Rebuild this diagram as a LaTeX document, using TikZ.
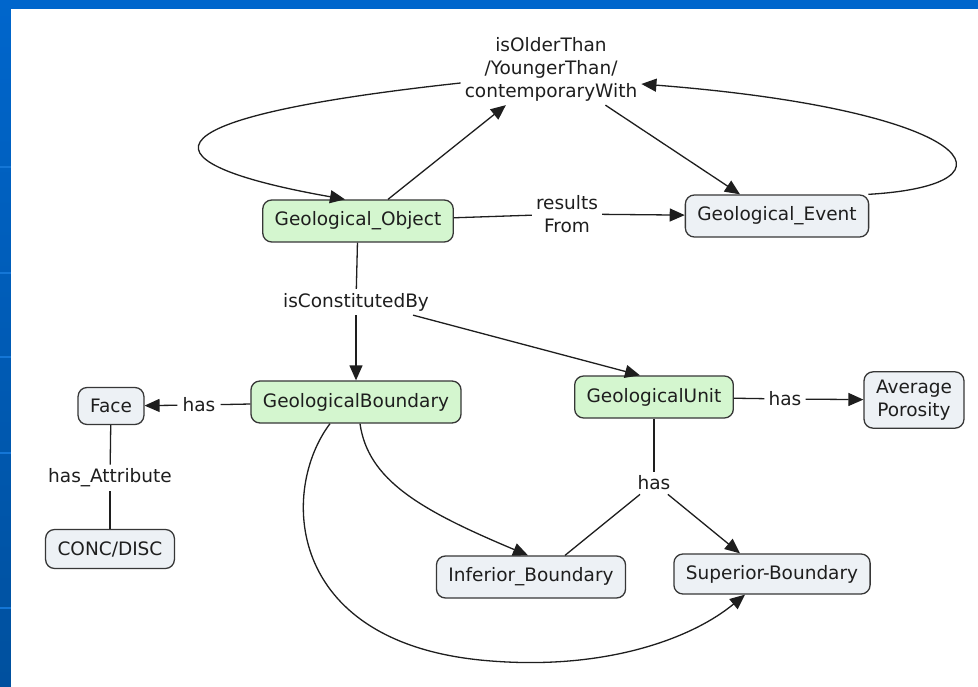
\documentclass[tikz,border=0pt]{standalone}
\usepackage{fontspec}
\setmainfont{DejaVu Sans}
\usetikzlibrary{arrows.meta}
\definecolor{frameblue}{RGB}{0,102,204}
\definecolor{framebluedark}{RGB}{0,80,158}
\definecolor{framebluelight}{RGB}{20,118,214}
\definecolor{conceptgreen}{RGB}{212,246,207}
\definecolor{conceptgray}{RGB}{237,241,245}
\definecolor{edgegray}{RGB}{55,55,55}
\definecolor{inkgray}{RGB}{30,30,30}
\begin{document}
\begin{tikzpicture}[x=1pt,y=-1pt,
  concept/.style={draw=edgegray, line width=1.3pt, rounded corners=9pt,
    inner xsep=12pt, inner ysep=6pt, minimum height=42pt,
    font=\fontsize{18.5}{23}\selectfont, text=inkgray, align=center},
  gconcept/.style={concept, fill=conceptgreen},
  bconcept/.style={concept, fill=conceptgray},
  linkword/.style={font=\fontsize{18.5}{23}\selectfont, text=inkgray,
    align=center, inner sep=4pt},
  link/.style={draw=inkgray, line width=1.3pt},
  arrow/.style={link, -{Triangle[length=15pt,width=13pt]}}
]
% slide frame
\useasboundingbox (0,0) rectangle (978,687);
\fill[frameblue] (0,0) rectangle (978,687);
\shade[top color=frameblue, bottom color=framebluedark] (0,0) rectangle (11,687);
\foreach \yy in {167,273,357,453,608}
  \draw[framebluelight, line width=1.5pt] (0,\yy) -- (11,\yy);
\fill[white] (11,9) rectangle (978,687);

% concepts
\node[gconcept] (GO)  at (358,221) {Geological\_Object};
\node[bconcept] (GE)  at (777,216) {Geological\_Event};
\node[gconcept] (GB)  at (356,402) {GeologicalBoundary};
\node[gconcept] (GU)  at (654,397) {GeologicalUnit};
\node[bconcept, minimum height=37pt] (Face) at (111,406) {Face};
\node[bconcept, minimum height=39pt] (CD) at (110,549) {CONC/DISC};
\node[bconcept, inner ysep=8pt] (AP) at (914,400) {Average\\Porosity};
\node[bconcept] (Inf) at (531,577) {Inferior\_Boundary};
\node[bconcept, minimum height=40pt] (Sup) at (772,574) {Superior-Boundary};

% linking words
\node[linkword] (temp) at (551,69) {isOlderThan\\/YoungerThan/\\contemporaryWith};
\node[linkword] (res)  at (567,214) {results\\From};
\node[linkword] (icb)  at (356,302) {isConstitutedBy};
\node[linkword, inner sep=5pt] (hasF) at (199,405) {has};
\node[linkword] (hasA) at (110,478) {has\_Attribute};
\node[linkword] (hasP) at (785,399) {has};
\node[linkword] (hasU) at (654,483) {has};

% temporal relations
\draw[arrow] ([xshift=30pt]GO.north) -- (temp);
\draw[arrow] (temp) -- ([xshift=-37pt]GE.north);
\draw[arrow] ([yshift=-14pt]temp.west)
  .. controls (120,120) and (150,165) .. ([xshift=-13pt]GO.north);
\draw[arrow] ([xshift=-1pt]GE.north east)
  .. controls (1030,185) and (975,110) .. ([yshift=-15pt]temp.east);

% resultsFrom
\draw[link] (GO) -- (res);
\draw[arrow] (res) -- (GE);

% constitution
\draw[link] (GO) -- (icb);
\draw[arrow] (icb) -- (GB);
\draw[arrow] ([xshift=-20pt]icb.south east) -- ([xshift=-14pt]GU.north);

% boundary faces
\draw[link] (GB) -- (hasF);
\draw[arrow] (hasF) -- (Face);
\draw[link] (Face) -- (hasA);
\draw[link] (hasA) -- (CD);

% unit properties
\draw[link] (GU) -- (hasP);
\draw[arrow] (hasP) -- (AP);
\draw[link] (GU) -- (hasU);
\draw[link] (hasU) -- ([xshift=34pt]Inf.north);
\draw[arrow] (hasU) -- ([xshift=-32pt]Sup.north);

% boundary to its limits
\draw[arrow] ([xshift=4pt]GB.south)
  .. controls (368,480) and (420,510) .. ([xshift=-3pt]Inf.north);
\draw[arrow] ([xshift=-26pt]GB.south)
  .. controls (280,490) and (285,640) .. (480,660)
  .. controls (600,672) and (690,640) .. ([xshift=-27pt]Sup.south);
\end{tikzpicture}
\end{document}
